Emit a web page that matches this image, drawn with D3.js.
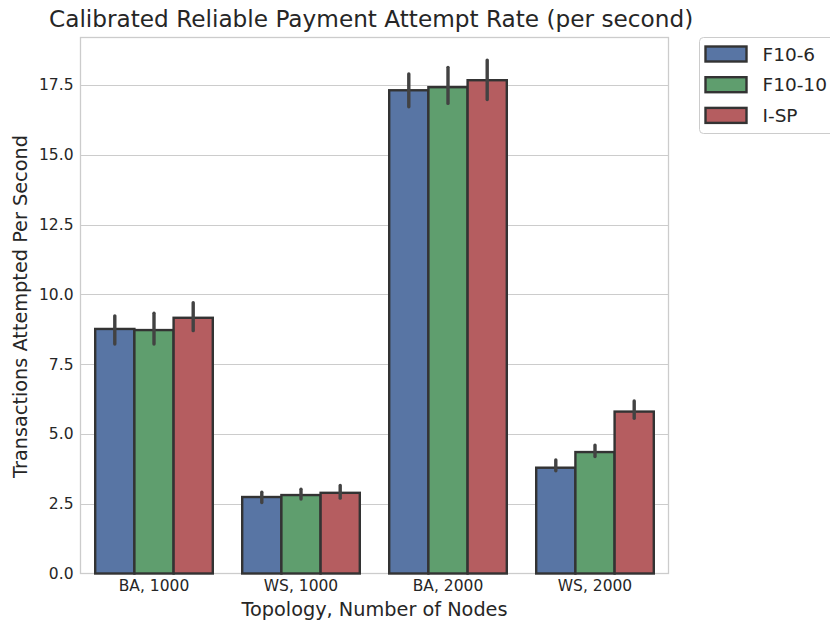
<!DOCTYPE html>
<html>
<head>
<meta charset="utf-8">
<script src="https://cdn.jsdelivr.net/npm/d3@7"></script>
<style>
  html, body { margin: 0; padding: 0; background: #fff; }
  svg { display: block; font-family: "DejaVu Sans", sans-serif; }
</style>
</head>
<body>
<svg id="chart" width="830" height="623"></svg>
<script>
// Topology / node-count groups along the x axis
const categories = ["BA, 1000", "WS, 1000", "BA, 2000", "WS, 2000"];
const seriesNames = ["F10-6", "F10-10", "I-SP"];

// Mean attempt rate per series (transactions per second)
const f106Values  = [8.76, 2.74, 17.31, 3.79];
const f1010Values = [8.72, 2.81, 17.42, 4.35];
const ispValues   = [9.16, 2.89, 17.67, 5.80];

// Confidence-interval bounds per series
const f106Low   = [8.22, 2.54, 16.72, 3.68];
const f106High  = [9.23, 2.91, 17.89, 4.07];
const f1010Low  = [8.22, 2.67, 16.84, 4.19];
const f1010High = [9.32, 3.02, 18.13, 4.60];
const ispLow    = [8.70, 2.70, 16.98, 5.56];
const ispHigh   = [9.70, 3.15, 18.39, 6.18];

const yTicks = [0, 2.5, 5, 7.5, 10, 12.5, 15, 17.5];
const yMax = 19.2;

const series = [
  { name: seriesNames[0], values: f106Values,  low: f106Low,  high: f106High,  color: "#5875a4" },
  { name: seriesNames[1], values: f1010Values, low: f1010Low, high: f1010High, color: "#5f9e6e" },
  { name: seriesNames[2], values: ispValues,   low: ispLow,   high: ispHigh,   color: "#b55d60" }
];

const svg = d3.select("#chart");
const plot = { left: 80.5, right: 668.5, top: 37.5, bottom: 573.5 };
const textColor = "#262626";
const gridColor = "#cccccc";

const x = d3.scaleBand().domain(categories).range([plot.left, plot.right]).paddingInner(0.2).paddingOuter(0.1);
const xInner = d3.scaleBand().domain(seriesNames).range([0, x.bandwidth()]);
const y = d3.scaleLinear().domain([0, yMax]).range([plot.bottom, plot.top]);

// Horizontal grid
svg.append("g")
  .selectAll("line")
  .data(yTicks.filter(t => t > 0))
  .join("line")
  .attr("x1", plot.left).attr("x2", plot.right)
  .attr("y1", d => Math.round(y(d)) + 0.5).attr("y2", d => Math.round(y(d)) + 0.5)
  .attr("stroke", gridColor).attr("stroke-width", 1);

// Frame
svg.append("rect")
  .attr("x", plot.left).attr("y", plot.top)
  .attr("width", plot.right - plot.left).attr("height", plot.bottom - plot.top)
  .attr("fill", "none").attr("stroke", gridColor).attr("stroke-width", 1.3);

// Bars
const groups = svg.append("g")
  .selectAll("g")
  .data(series)
  .join("g");

groups.selectAll("rect")
  .data(s => s.values.map((v, i) => ({ cat: categories[i], v, s })))
  .join("rect")
  .attr("x", d => x(d.cat) + xInner(d.s.name))
  .attr("width", xInner.bandwidth())
  .attr("y", d => y(d.v))
  .attr("height", d => y(0) - y(d.v))
  .attr("fill", d => d.s.color)
  .attr("stroke", "#333333")
  .attr("stroke-width", 2.4);

// Error bars
groups.selectAll("line.err")
  .data(s => s.values.map((v, i) => ({ cat: categories[i], lo: s.low[i], hi: s.high[i], s })))
  .join("line")
  .attr("class", "err")
  .attr("x1", d => x(d.cat) + xInner(d.s.name) + xInner.bandwidth() / 2)
  .attr("x2", d => x(d.cat) + xInner(d.s.name) + xInner.bandwidth() / 2)
  .attr("y1", d => y(d.lo))
  .attr("y2", d => y(d.hi))
  .attr("stroke", "#424242")
  .attr("stroke-width", 3.4)
  .attr("stroke-linecap", "round");

// Y axis tick labels
const yAxis = d3.axisLeft(y).tickValues(yTicks).tickFormat(d3.format(".1f")).tickSize(0).tickPadding(7);
svg.append("g")
  .attr("transform", `translate(${plot.left},0)`)
  .call(yAxis)
  .call(g => g.select(".domain").remove())
  .call(g => g.selectAll("text").attr("fill", textColor).attr("font-size", 15.5).attr("font-family", "DejaVu Sans"));

// X axis tick labels
const xAxis = d3.axisBottom(x).tickSize(0).tickPadding(6);
svg.append("g")
  .attr("transform", `translate(0,${plot.bottom})`)
  .call(xAxis)
  .call(g => g.select(".domain").remove())
  .call(g => g.selectAll("text").attr("fill", textColor).attr("font-size", 15.5).attr("font-family", "DejaVu Sans"));

// Axis titles
svg.append("text")
  .attr("x", (plot.left + plot.right) / 2).attr("y", 616)
  .attr("text-anchor", "middle").attr("fill", textColor).attr("font-size", 19.3)
  .text("Topology, Number of Nodes");

svg.append("text")
  .attr("transform", `translate(27,${(plot.top + plot.bottom) / 2 + 1}) rotate(-90)`)
  .attr("text-anchor", "middle").attr("fill", textColor).attr("font-size", 19.3)
  .text("Transactions Attempted Per Second");

// Chart title
svg.append("text")
  .attr("x", 49).attr("y", 27)
  .attr("text-anchor", "start").attr("fill", textColor).attr("font-size", 23.2)
  .text("Calibrated Reliable Payment Attempt Rate (per second)");

// Legend
const legend = svg.append("g").attr("transform", "translate(699.5,37.5)");
legend.append("rect")
  .attr("width", 150).attr("height", 96).attr("rx", 4)
  .attr("fill", "#ffffff").attr("stroke", gridColor).attr("stroke-width", 1);
const items = legend.selectAll("g.item")
  .data(series)
  .join("g")
  .attr("class", "item")
  .attr("transform", (d, i) => `translate(6,${9 + i * 30.7})`);
items.append("rect")
  .attr("width", 41).attr("height", 15)
  .attr("fill", d => d.color).attr("stroke", "#333333").attr("stroke-width", 2.4);
items.append("text")
  .attr("x", 57).attr("y", 14)
  .attr("fill", textColor).attr("font-size", 18.5)
  .text(d => d.name);
</script>
</body>
</html>
